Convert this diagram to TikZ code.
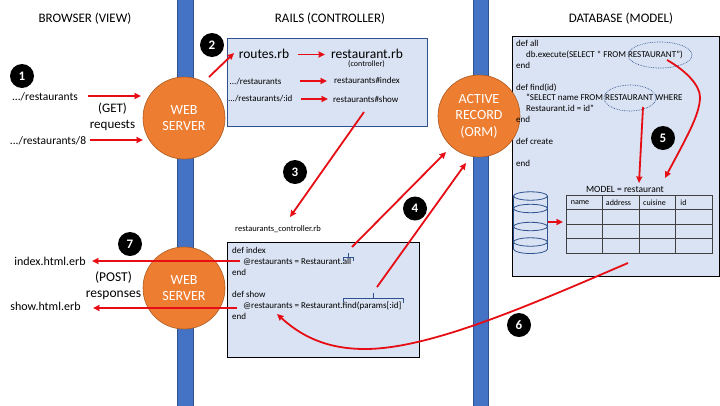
\documentclass[tikz,border=0pt]{standalone}
\usepackage{fontspec}
\setmainfont{Carlito}
\usetikzlibrary{arrows.meta,shapes.geometric}
\definecolor{barblue}{HTML}{4472C4}
\definecolor{barline}{HTML}{2F528F}
\definecolor{boxfill}{HTML}{DAE3F3}
\definecolor{orangeC}{HTML}{ED7D31}
\definecolor{orangeL}{HTML}{AE5A21}
\definecolor{redC}{HTML}{E60D14}
\tikzset{
  x=1pt,y=-1pt,
  bar/.style={fill=barblue,draw=barline,line width=0.8pt},
  server/.style={circle,fill=orangeC,draw=orangeL,line width=0.6pt,minimum size=82pt,inner sep=0pt,text=white,align=center,font=\fontsize{14}{16.5}\selectfont},
  badge/.style={circle,fill=black,minimum size=24pt,inner sep=0pt,text=white,font=\fontsize{13}{13}\selectfont\bfseries},
  header/.style={font=\fontsize{13}{15}\selectfont,inner sep=0pt},
  label/.style={font=\fontsize{11.5}{13.5}\selectfont,inner sep=0pt,align=center},
  bigger label/.style={font=\fontsize{13}{16}\selectfont,inner sep=0pt,align=center},
  small/.style={font=\fontsize{9}{10.9}\selectfont,inner sep=0pt,anchor=west},
  big/.style={font=\fontsize{13.5}{14}\selectfont,inner sep=0pt},
  code/.style={font=\fontsize{9}{10.9}\selectfont,inner sep=0pt,anchor=north west,align=left},
  panel/.style={fill=boxfill,draw=black,line width=0.9pt},
  flow/.style={draw=redC,line width=1.8pt,-{Stealth[length=6.5pt,width=6pt,inset=0.5pt]}},
  dotring/.style={draw=barline,densely dotted,line width=0.7pt},
  brace/.style={draw=barline,line width=0.7pt},
  grid line/.style={draw=black!75,line width=0.8pt},
  can/.style={draw=barline,line width=0.8pt,fill=boxfill}
}
\begin{document}
\begin{tikzpicture}
\useasboundingbox (0,0) rectangle (720,405);
\fill[white] (0,0) rectangle (720,405);
% bars
\path[bar] (177.5,-2) rectangle (193.5,407);
\path[bar] (473,-2) rectangle (488.5,407);
% panels
\path[fill=boxfill,draw=barline,line width=0.9pt] (227.5,38.5) rectangle (427,126.5);
\path[panel] (512,36) rectangle (719,276);
\path[panel] (227.5,242.5) rectangle (419,357);
% headers
\node[header] (hview) at (85,18.5) {BROWSER (VIEW)};
\node[header] (hctrl) at (330,18.5) {RAILS (CONTROLLER)};
\node[header] (hmodel) at (621,18.5) {DATABASE (MODEL)};
% servers
\node[server] (web1) at (184,118) {WEB\\SERVER};
\node[server] (web2) at (184,288) {WEB\\SERVER};
\node[server] (orm) at (479,116) {ACTIVE\\RECORD\\(ORM)};
% left labels
\node[label] (url1) at (45,96.5) {.../restaurants};
\node[label] (url2) at (48,140.5) {.../restaurants/8};
\node[bigger label] (get) at (112.5,117) {(GET)\\requests};
\node[font=\fontsize{12}{14}\selectfont,inner sep=0pt] (idx) at (50,261.5) {index.html.erb};
\node[font=\fontsize{12}{14}\selectfont,inner sep=0pt] (shw) at (45.5,306.5) {show.html.erb};
\node[font=\fontsize{13.5}{16}\selectfont,inner sep=0pt,align=center] (post) at (113.5,286) {(POST)\\responses};
% rails box
\node[big] (routes) at (264,54) {routes.rb};
\node[big] (rest) at (367,54) {restaurant.rb};
\node[font=\fontsize{8}{8}\selectfont,inner sep=0pt] (ctl) at (366.5,64.5) {(controller)};
\node[small] (r1) at (229.5,81.5) {.../restaurants};
\node[small] (r2) at (228,99) {.../restaurants/:id};
\node[small] (t1) at (334,80.5) {restaurants\#index};
\node[small] (t2) at (333,99) {restaurants\#show};
% controller
\node[font=\fontsize{8.5}{10}\selectfont,inner sep=0pt,anchor=west] (cfile) at (235,229) {restaurants\_controller.rb};
\node[code] (ccode) at (232,247.5) {def index\\\hspace*{11pt}@restaurants = Restaurant.all\\end\\\mbox{}\\def show\\\hspace*{11pt}@restaurants = Restaurant.find(params[:id]\\end};
% db code
\node[code] (dbcode) at (516,40) {def all\\\hspace*{10pt}db.execute(SELECT * FROM RESTAURANT”)\\end\\\mbox{}\\def find(id)\\\hspace*{10pt}“SELECT name FROM RESTAURANT WHERE\\\hspace*{10pt}Restaurant.id = id”\\end\\\mbox{}\\def create\\\mbox{}\\end};
% dotted rings
\node[dotring,ellipse,minimum width=64pt,minimum height=26pt,inner sep=0pt] (ring1) at (660,55) {};
\node[dotring,ellipse,minimum width=52pt,minimum height=26pt,inner sep=0pt] (ring2) at (630,98) {};
% table
\node[font=\fontsize{9.5}{11}\selectfont,inner sep=0pt] (mtitle) at (625,189) {MODEL = restaurant};
\path[fill=boxfill,grid line] (566,195.5) rectangle (712.5,253.5);
\foreach \yy in {209.5,224.5,238.5} \draw[grid line] (566,\yy) -- (712.5,\yy);
\foreach \xx in {602.5,639,675.5} \draw[grid line] (\xx,195.5) -- (\xx,253.5);
\node[font=\fontsize{8}{9}\selectfont,inner sep=0pt] (c1) at (580,202.5) {name};
\node[font=\fontsize{8}{9}\selectfont,inner sep=0pt] (c2) at (618.5,202.5) {address};
\node[font=\fontsize{8}{9}\selectfont,inner sep=0pt] (c3) at (654.5,202.5) {cuisine};
\node[font=\fontsize{8}{9}\selectfont,inner sep=0pt] (c4) at (683.5,202.5) {id};
% cylinder
\path[can] (513.5,196) -- (513.5,249) arc[start angle=180,end angle=360,x radius=17,y radius=-4.5] -- (547.5,196);
\foreach \yy in {196,208.5,226.5,242} \path[can] (530.5,\yy) ellipse[x radius=17,y radius=4.2];
% coordinates
\coordinate (a1s) at (88,96); \coordinate (a1e) at (141,96);
\coordinate (a2s) at (90,140); \coordinate (a2e) at (143,140);
\coordinate (a3s) at (209,77); \coordinate (a3e) at (234,53);
\coordinate (a4s) at (298,54.5); \coordinate (a4e) at (325,54.5);
\coordinate (a5s) at (300,81); \coordinate (a5e) at (327,81);
\coordinate (a6s) at (301,99); \coordinate (a6e) at (328,99);
\coordinate (a7s) at (364,112); \coordinate (a7e) at (290,217);
\coordinate (a8s) at (352,247); \coordinate (a8e) at (446,152);
\coordinate (a9s) at (377,287); \coordinate (a9e) at (466,163);
\coordinate (b1s) at (240,261); \coordinate (b1e) at (92,261);
\coordinate (b2s) at (237,308); \coordinate (b2e) at (93,308);
\coordinate (b3s) at (643,107); \coordinate (b3e) at (639,183);
\coordinate (b4s) at (667,60); \coordinate (b4e) at (665,178);
\coordinate (b5s) at (548,222); \coordinate (b5e) at (563,222);
\coordinate (b6s) at (628,263); \coordinate (b6e) at (277,314);
% braces
\draw[brace] (343.5,261) -- (343.5,257.5) -- (353,257.5) -- (353,261) (348.2,257.5) -- (348.2,252.5);
\draw[brace] (343,302) -- (343,298) -- (403.5,298) -- (403.5,303) (373,298) -- (373,292.5);
% connectors
\draw[flow] (a1s) -- (a1e);
\draw[flow] (a2s) -- (a2e);
\draw[flow] (a3s) -- (a3e);
\draw[flow] (a4s) -- (a4e);
\draw[flow] (a5s) -- (a5e);
\draw[flow] (a6s) -- (a6e);
\draw[flow] (a7s) -- (a7e);
\draw[flow] (a8s) -- (a8e);
\draw[flow] (a9s) -- (a9e);
\draw[flow] (b1s) -- (b1e);
\draw[flow] (b2s) -- (b2e);
\draw[flow] (b3s) -- (b3e);
\draw[flow] (b4s) .. controls (685,70) and (700,85) .. (700,97) .. controls (700,115) and (685,140) .. (b4e);
\draw[flow] (b5s) -- (b5e);
\draw[flow] (b6s) .. controls (530,305) and (430,349) .. (365,349) .. controls (325,349) and (300,335) .. (b6e);
% badges
\node[badge] (n1) at (22,76) {1};
\node[badge] (n2) at (212,45) {2};
\node[badge] (n3) at (295,172) {3};
\node[badge] (n4) at (415,208.5) {4};
\node[badge] (n5) at (663,138) {5};
\node[badge] (n6) at (519,325) {6};
\node[badge] (n7) at (130,244) {7};
\end{tikzpicture}
\end{document}
